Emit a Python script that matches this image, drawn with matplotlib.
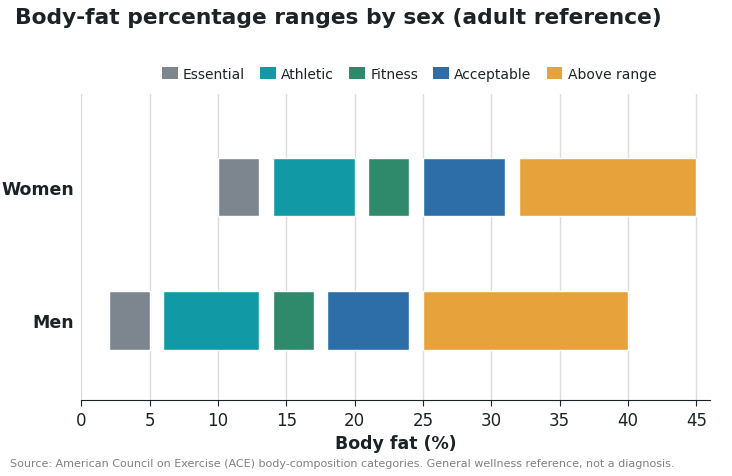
import matplotlib
matplotlib.use("Agg")
import matplotlib.pyplot as plt
from matplotlib.patches import Patch

# ACE body-fat categories (start, end) in %
sexes = ["Men", "Women"]
categories = ["Essential", "Athletic", "Fitness", "Acceptable", "Above range"]
men_ranges = [(2, 5), (6, 13), (14, 17), (18, 24), (25, 40)]
women_ranges = [(10, 13), (14, 20), (21, 24), (25, 31), (32, 45)]
colors = ["#7d868e", "#119aa5", "#2e8a6a", "#2e6ea8", "#e8a23c"]

fig = plt.figure(figsize=(7.32, 4.77), dpi=100)
ax = fig.add_axes([0.111, 0.159, 0.859, 0.642])

for yi, ranges in enumerate([men_ranges, women_ranges]):
    for (lo, hi), c in zip(ranges, colors):
        ax.barh(yi, hi - lo, left=lo, height=0.44, color=c,
                edgecolor="white", linewidth=1, zorder=3)

ax.set_xlim(0, 46)
ax.set_ylim(-0.6, 1.7)
ax.set_yticks([0, 1])
ax.set_yticklabels(sexes, fontsize=12.5, fontweight="bold", color="#1c2327")
ax.tick_params(axis="y", length=0, pad=5)
ax.set_xticks(range(0, 46, 5))
ax.tick_params(axis="x", labelsize=12, colors="#1c2327", length=4)
ax.set_xlabel("Body fat (%)", fontsize=12.5, fontweight="bold", color="#1c2327", labelpad=4)
ax.grid(axis="x", color="#dcdcdc", linewidth=1, zorder=0)
for s in ["top", "right", "left"]:
    ax.spines[s].set_visible(False)
ax.spines["bottom"].set_color("#1c2327")

handles = [Patch(facecolor=c, label=l) for c, l in zip(colors, categories)]
fig.legend(handles=handles, loc="center", bbox_to_anchor=(0.559, 0.843), ncol=5,
           frameon=False, fontsize=10, handlelength=1.1, handleheight=0.9,
           handletextpad=0.4, columnspacing=1.1, labelcolor="#1c2327")

fig.text(0.02, 0.963, "Body-fat percentage ranges by sex (adult reference)",
         fontsize=15.7, fontweight="bold", color="#1c2327", va="center")
fig.text(0.013, 0.027, "Source: American Council on Exercise (ACE) body-composition categories. "
         "General wellness reference, not a diagnosis.", fontsize=8, color="#808080", va="center")

fig.savefig("out.png", dpi=100)
